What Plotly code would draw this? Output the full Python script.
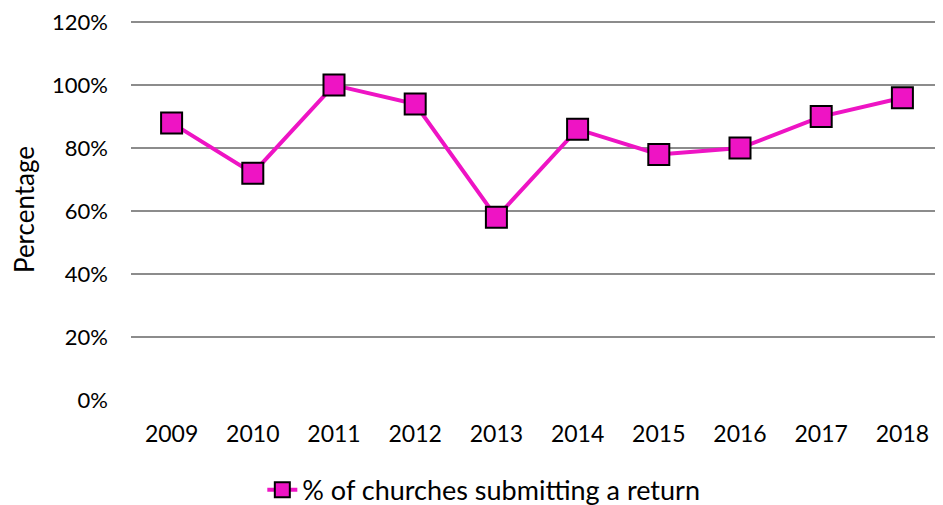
import plotly.graph_objects as go

years = ["2009", "2010", "2011", "2012", "2013", "2014", "2015", "2016", "2017", "2018"]
pct_submitting = [88, 72, 100, 94, 58, 86, 78, 80, 90, 96]
y_ticks = [0, 20, 40, 60, 80, 100, 120]
y_tick_labels = [f"{v}%" for v in y_ticks]
series_name = "% of churches submitting a return"

FONT = "Lato, 'Open Sans', sans-serif"
MAGENTA = "#EE14C4"

fig = go.Figure()
fig.add_trace(go.Scatter(
    x=years, y=pct_submitting, name=series_name, mode="lines+markers",
    line=dict(color=MAGENTA, width=4), showlegend=False,
    marker=dict(symbol="square", size=21, color=MAGENTA, line=dict(color="black", width=2)),
))
# legend entry with a smaller marker, as in the reference
fig.add_trace(go.Scatter(
    x=[None], y=[None], name=series_name, mode="lines+markers",
    line=dict(color=MAGENTA, width=4),
    marker=dict(symbol="square", size=15, color=MAGENTA, line=dict(color="black", width=2)),
))

fig.update_layout(
    width=935, height=497,
    margin=dict(l=123, r=0, t=11, b=105),
    paper_bgcolor="white", plot_bgcolor="white",
    font=dict(family=FONT, size=22, color="black"),
    showlegend=True,
    legend=dict(orientation="h", xref="container", yref="container",
                x=0.272, xanchor="left", y=0.03, yanchor="middle",
                font=dict(size=27, family=FONT)),
    xaxis=dict(type="category", range=[-0.5, 9.5], showgrid=False, showline=False,
               ticks="", ticklabelstandoff=18, tickfont=dict(size=23)),
    yaxis=dict(range=[0, 121], tickvals=y_ticks, ticktext=y_tick_labels,
               showgrid=True, gridcolor="#8c8c8c", gridwidth=1.5, zeroline=False,
               showline=False, ticks="", ticklabelstandoff=22,
               ticklabeloverflow="allow",
               title=dict(text="Percentage", font=dict(size=26), standoff=18),
               tickfont=dict(size=22)),
)

fig.write_html("out.html")
